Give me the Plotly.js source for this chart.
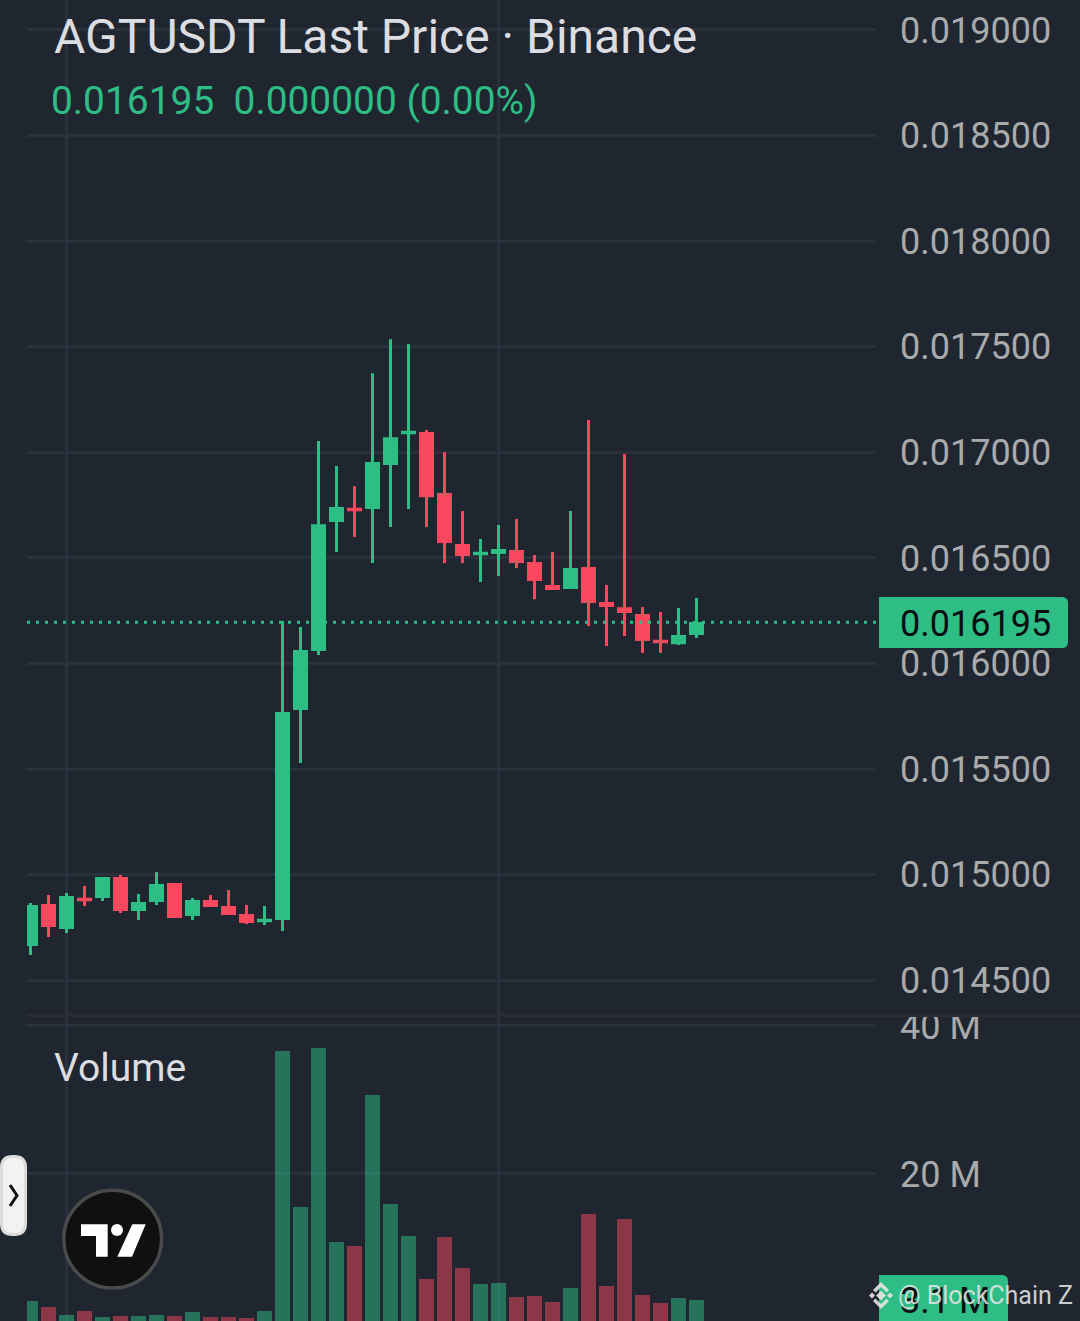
<!DOCTYPE html>
<html>
<head>
<meta charset="utf-8">
<script src="https://cdn.plot.ly/plotly-3.0.1.min.js"></script>
<style>html,body{margin:0;padding:0;background:#1f2630;overflow:hidden}#chart{width:1080px;height:1321px}</style>
</head>
<body>
<div id="chart"></div>
<script>
const candleIndex = [0,1,2,3,4,5,6,7,8,9,10,11,12,13,14,15,16,17,18,19,20,21,22,23,24,25,26,27,28,29,30,31,32,33,34,35,36,37];
const openPrice = [0.014670,0.014854,0.014750,0.014884,0.014897,0.014982,0.014835,0.014878,0.014954,0.014812,0.014873,0.014845,0.014807,0.014782,0.014793,0.015787,0.016066,0.016677,0.016730,0.016739,0.016947,0.017093,0.017089,0.016800,0.016559,0.016520,0.016526,0.016530,0.016474,0.016365,0.016360,0.016450,0.016284,0.016260,0.016227,0.016105,0.016099,0.016142];
const closePrice = [0.014849,0.014760,0.014892,0.014882,0.014982,0.014835,0.014864,0.014949,0.014802,0.014873,0.014854,0.014816,0.014778,0.014784,0.015763,0.016057,0.016653,0.016734,0.016728,0.016947,0.017065,0.017095,0.016795,0.016578,0.016516,0.016522,0.016535,0.016483,0.016398,0.016355,0.016445,0.016294,0.016275,0.016246,0.016114,0.016103,0.016128,0.016189];
const highPrice = [0.014866,0.014904,0.014913,0.014947,0.014982,0.014999,0.014909,0.015013,0.014954,0.014890,0.014904,0.014928,0.014857,0.014852,0.016201,0.016173,0.017054,0.016935,0.016840,0.017375,0.017536,0.017513,0.017106,0.017001,0.016722,0.016590,0.016656,0.016684,0.016514,0.016528,0.016722,0.017153,0.016372,0.016992,0.016268,0.016244,0.016263,0.016310];
const lowPrice = [0.014620,0.014705,0.014724,0.014852,0.014876,0.014819,0.014786,0.014857,0.014802,0.014786,0.014854,0.014816,0.014767,0.014762,0.014733,0.015529,0.016040,0.016528,0.016599,0.016476,0.016646,0.016732,0.016646,0.016476,0.016476,0.016386,0.016414,0.016452,0.016305,0.016355,0.016360,0.016178,0.016083,0.016130,0.016050,0.016050,0.016088,0.016121];
const volumeM = [2.84,2.03,0.95,1.49,0.68,0.81,0.81,0.95,0.81,1.35,0.68,0.68,0.54,1.49,36.6,15.5,37.0,10.8,10.3,30.7,15.9,11.6,5.8,11.5,7.3,5.1,5.3,3.4,3.5,2.7,4.6,14.6,4.9,13.9,3.6,2.6,3.2,3.0];

const priceTicks = [0.0145,0.015,0.0155,0.016,0.0165,0.017,0.0175,0.018,0.0185,0.019];
const volumeTicks = [20,40];
const volumeTickLabels = ['20 M','40 M'];
const verticalGridAt = [2,26];
const lastPrice = 0.016195;
const lastPriceLabel = '0.016195';
const lastVolumeLabel = '3.1 M';
const titleText = 'AGTUSDT Last Price · Binance';
const legendText = '0.016195\u00A0\u00A00.000000 (0.00%)';
const volumeTitle = 'Volume';
const watermark = '@ BlockChain Z';

const GREEN = '#2ebd85', RED = '#f8485e', BG = '#1f2630', GRID = '#2b313c', TICK = '#a9aaac', TITLE = '#dcdde0';
const FONT = 'Roboto, sans-serif';

const W = 1080, H = 1321, L = 27, R = 876;
const px = x => (x - L) / (R - L);
const py = y => 1 - y / H;
const poly = pts => 'M' + pts.map(p => px(p[0]) + ',' + py(p[1])).join('L') + 'Z';
const polyOpen = pts => 'M' + pts.map(p => px(p[0]) + ',' + py(p[1])).join('L');
function roundedRight(x0, y0, x1, y1, r) {
  const a = [];
  a.push('M' + px(x0) + ',' + py(y0));
  a.push('L' + px(x1 - r) + ',' + py(y0));
  a.push('Q' + px(x1) + ',' + py(y0) + ' ' + px(x1) + ',' + py(y0 + r));
  a.push('L' + px(x1) + ',' + py(y1 - r));
  a.push('Q' + px(x1) + ',' + py(y1) + ' ' + px(x1 - r) + ',' + py(y1));
  a.push('L' + px(x0) + ',' + py(y1) + 'Z');
  return a.join('');
}
function pill(x0, y0, x1, y1, r) {
  return 'M' + px(x0 + r) + ',' + py(y0) + 'L' + px(x1 - r) + ',' + py(y0) +
    'Q' + px(x1) + ',' + py(y0) + ' ' + px(x1) + ',' + py(y0 + r) +
    'L' + px(x1) + ',' + py(y1 - r) +
    'Q' + px(x1) + ',' + py(y1) + ' ' + px(x1 - r) + ',' + py(y1) +
    'L' + px(x0 + r) + ',' + py(y1) +
    'Q' + px(x0) + ',' + py(y1) + ' ' + px(x0) + ',' + py(y1 - r) +
    'L' + px(x0) + ',' + py(y0 + r) +
    'Q' + px(x0) + ',' + py(y0) + ' ' + px(x0 + r) + ',' + py(y0) + 'Z';
}
const deco = (path, fill, line, lw) => ({type:'path', xref:'paper', yref:'paper', layer:'above', path,
  fillcolor: fill || 'rgba(0,0,0,0)', line:{color: line || 'rgba(0,0,0,0)', width: lw || 0}});

const volColors = openPrice.map((o,i) => closePrice[i] >= o ? GREEN : RED);

const traces = [
  {type:'candlestick', x:candleIndex, open:openPrice, high:highPrice, low:lowPrice, close:closePrice,
   xaxis:'x', yaxis:'y', whiskerwidth:0,
   increasing:{line:{color:GREEN,width:3}, fillcolor:GREEN},
   decreasing:{line:{color:RED,width:3}, fillcolor:RED},
   hoverinfo:'skip', showlegend:false},
  {type:'bar', x:candleIndex, y:volumeM, xaxis:'x2', yaxis:'y2', width:15/18,
   marker:{color:volColors, opacity:0.5, line:{width:0}}, hoverinfo:'skip', showlegend:false}
];

const xRange = [(L - 30.5)/18, (R - 30.5)/18];
const xCommon = {range:xRange, tickmode:'array', tickvals:verticalGridAt, showticklabels:false, ticks:'',
  showgrid:true, gridcolor:GRID, gridwidth:3, zeroline:false, showline:false, rangeslider:{visible:false}, fixedrange:true};
const yCommon = {side:'right', showgrid:true, gridcolor:GRID, gridwidth:3, zeroline:false, showline:false,
  ticks:'', ticklabelstandoff:23, tickfont:{family:FONT, size:36, color:TICK}, fixedrange:true};

const ann = (text, x, y, size, color, family) => ({text, xref:'paper', yref:'paper', x:px(x), y:py(y),
  xanchor:'left', yanchor:'middle', showarrow:false, borderpad:0, align:'left',
  font:{family:family||FONT, size, color}});

const layout = {
  width:W, height:H, autosize:false,
  margin:{l:L, r:W-R, t:0, b:0, pad:0},
  paper_bgcolor:BG, plot_bgcolor:BG, showlegend:false, hovermode:false,
  boxgap:0.3333, boxgroupgap:0, bargap:0,
  title:{text:titleText, xref:'container', yref:'container', x:54/W, y:1-36/H, xanchor:'left', yanchor:'middle',
         font:{family:FONT, size:48, color:TITLE}},
  xaxis:Object.assign({}, xCommon, {anchor:'y', domain:[0,1]}),
  xaxis2:Object.assign({}, xCommon, {anchor:'y2', domain:[0,1]}),
  yaxis:Object.assign({}, yCommon, {anchor:'x', domain:[1-1016/H,1], range:[0.014331,0.019142], ticklabelshift:0.4,
     tickmode:'array', tickvals:priceTicks, ticktext:priceTicks.map(v=>v.toFixed(6))}),
  yaxis2:Object.assign({}, yCommon, {anchor:'x2', domain:[0,1-1016/H], range:[0.135,41.34], ticklabelshift:0.5,
     tickmode:'array', tickvals:volumeTicks, ticktext:volumeTickLabels}),
  shapes:[
    {type:'line', xref:'paper', yref:'y', x0:0, x1:1, y0:lastPrice, y1:lastPrice, layer:'above',
     line:{color:GREEN, width:3, dash:'3px,6px'}},
    deco(poly([[877,1000],[W,1000],[W,1017],[877,1017]]), BG),
    {type:'line', xref:'paper', yref:'paper', layer:'above', x0:px(L), x1:px(W), y0:py(1015.5), y1:py(1015.5),
     line:{color:'#2b2d30', width:3}},
    deco(roundedRight(879,597,1068,648,6), GREEN),
    deco(roundedRight(879,1275,1008,1340,6), GREEN),
    deco(pill(1.5,1156.5,25.5,1234.5,11), '#f2f2f2', '#dcdcdc', 3),
    deco(polyOpen([[10,1185],[17,1195.5],[10,1206]]), null, '#111111', 3),
    {type:'circle', xref:'paper', yref:'paper', layer:'above', x0:px(63.8), x1:px(161.6), y0:py(1288), y1:py(1190.2),
     fillcolor:'#0e1110', line:{color:'#4a4a4c', width:3.5}},
    deco(poly([[81,1224.3],[107.7,1224.3],[107.7,1256.7],[96,1256.7],[96,1236],[81,1236]]), '#ffffff'),
    {type:'circle', xref:'paper', yref:'paper', layer:'above', x0:px(111),x1:px(123),y0:py(1236),y1:py(1224),
     fillcolor:'#ffffff', line:{width:0}},
    deco(poly([[132.3,1224.3],[145.7,1224.3],[132,1256.7],[117.3,1256.7]]), '#ffffff'),
    deco(poly([[881,1290.5],[886,1295.5],[881,1300.5],[876,1295.5]]), 'rgba(230,230,230,0.9)'),
    deco(poly([[872,1292.5],[875,1295.5],[872,1298.5],[869,1295.5]]), 'rgba(230,230,230,0.9)'),
    deco(poly([[890,1292.5],[893,1295.5],[890,1298.5],[887,1295.5]]), 'rgba(230,230,230,0.9)'),
    deco(poly([[881,1282],[889,1290],[886.5,1292.5],[881,1287],[875.5,1292.5],[873,1290]]), 'rgba(230,230,230,0.9)'),
    deco(poly([[881,1309],[889,1301],[886.5,1298.5],[881,1304],[875.5,1298.5],[873,1301]]), 'rgba(230,230,230,0.9)')
  ],
  annotations:[
    ann(legendText, 50, 101, 38.9, GREEN),
    ann(volumeTitle, 53, 1068, 39, TITLE),
    ann(lastPriceLabel, 899, 624, 36, '#0b0e11'),
    ann(lastVolumeLabel, 899, 1301, 36, '#0b0e11'),
    ann(watermark, 896.5, 1295, 25, 'rgba(228,228,228,0.9)', 'Roboto, sans-serif')
  ]
};
Plotly.newPlot('chart', traces, layout, {displayModeBar:false, staticPlot:true});
</script>
</body>
</html>
